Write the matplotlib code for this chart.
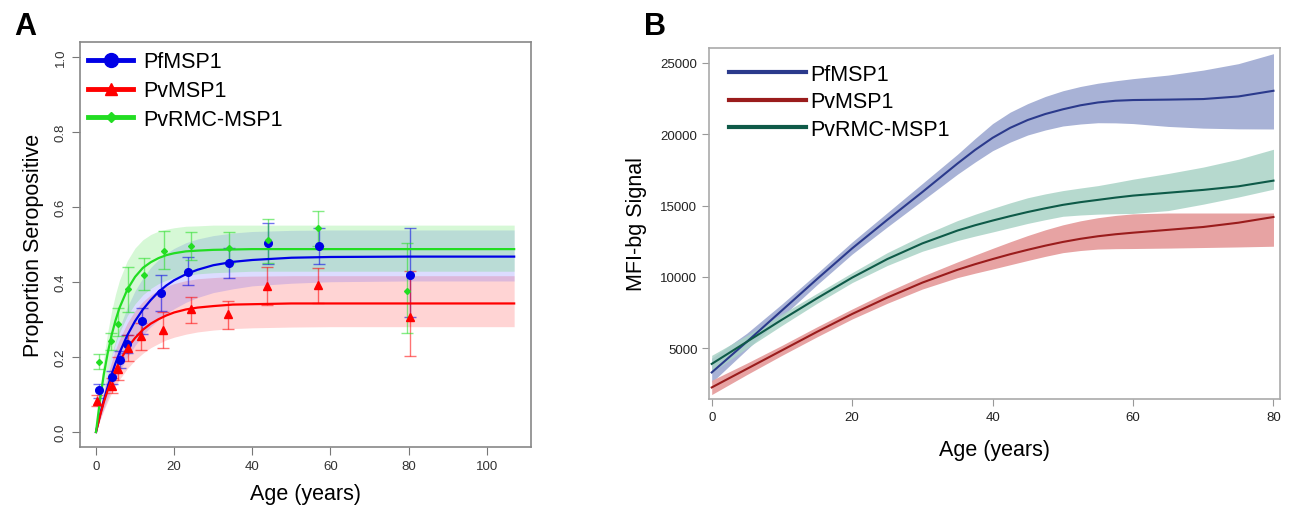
import numpy as np
import matplotlib.pyplot as plt
from matplotlib.lines import Line2D

plt.rcParams['font.family'] = ['Liberation Sans', 'DejaVu Sans']

# ---------------- Panel A data: proportion seropositive ----------------
pf_age = [0.8, 4.0, 6.2, 8.0, 11.7, 16.7, 23.6, 34.0, 44.0, 57.1, 80.3]
pf_prop = [0.111, 0.146, 0.193, 0.235, 0.295, 0.370, 0.428, 0.452, 0.503, 0.497, 0.420]
pf_lo = [0.092, 0.128, 0.170, 0.210, 0.262, 0.322, 0.393, 0.412, 0.448, 0.448, 0.306]
pf_hi = [0.129, 0.164, 0.215, 0.260, 0.330, 0.419, 0.466, 0.492, 0.557, 0.545, 0.545]

pv_age = [0.3, 4.1, 5.7, 8.2, 11.6, 17.2, 24.2, 33.8, 43.8, 56.7, 80.3]
pv_prop = [0.084, 0.124, 0.169, 0.224, 0.255, 0.272, 0.327, 0.314, 0.389, 0.391, 0.306]
pv_lo = [0.070, 0.105, 0.140, 0.190, 0.220, 0.225, 0.290, 0.275, 0.338, 0.345, 0.203]
pv_hi = [0.100, 0.145, 0.200, 0.260, 0.290, 0.320, 0.360, 0.350, 0.440, 0.437, 0.430]

rmc_age = [0.8, 3.9, 5.6, 8.1, 12.3, 17.4, 24.3, 34.1, 44.1, 56.9, 79.7]
rmc_prop = [0.187, 0.244, 0.288, 0.382, 0.420, 0.482, 0.495, 0.490, 0.513, 0.543, 0.377]
rmc_lo = [0.167, 0.220, 0.255, 0.320, 0.380, 0.435, 0.460, 0.450, 0.450, 0.495, 0.265]
rmc_hi = [0.209, 0.265, 0.330, 0.440, 0.465, 0.535, 0.533, 0.533, 0.567, 0.590, 0.503]

# fitted curves and bands read at these ages
fit_age = [0, 1, 2, 3, 4, 5, 6, 8, 10, 12, 14, 16, 18, 20, 23, 26, 30, 35, 40, 50, 60, 80, 107]
pf_fit = [0, 0.045, 0.085, 0.121, 0.154, 0.184, 0.211, 0.258, 0.296, 0.327, 0.352, 0.374,
          0.391, 0.405, 0.421, 0.433, 0.445, 0.454, 0.459, 0.465, 0.467, 0.468, 0.468]
pf_fit_hi = [0, 0.061, 0.115, 0.163, 0.205, 0.243, 0.277, 0.333, 0.377, 0.411, 0.439, 0.460,
             0.477, 0.490, 0.505, 0.515, 0.524, 0.531, 0.535, 0.538, 0.539, 0.539, 0.539]
pf_fit_lo = [0, 0.033, 0.063, 0.091, 0.116, 0.139, 0.161, 0.199, 0.231, 0.258, 0.281, 0.299,
             0.316, 0.329, 0.346, 0.359, 0.372, 0.382, 0.390, 0.397, 0.401, 0.403, 0.403]
pv_fit = [0, 0.042, 0.080, 0.112, 0.141, 0.166, 0.188, 0.224, 0.251, 0.273, 0.289, 0.301,
          0.311, 0.319, 0.327, 0.332, 0.336, 0.340, 0.341, 0.343, 0.343, 0.343, 0.343]
pv_fit_hi = [0, 0.058, 0.108, 0.151, 0.188, 0.220, 0.247, 0.291, 0.324, 0.348, 0.366, 0.379,
             0.389, 0.396, 0.404, 0.409, 0.412, 0.415, 0.416, 0.417, 0.417, 0.417, 0.417]
pv_fit_lo = [0, 0.031, 0.058, 0.082, 0.104, 0.123, 0.140, 0.169, 0.192, 0.210, 0.225, 0.236,
             0.246, 0.253, 0.261, 0.267, 0.272, 0.276, 0.278, 0.280, 0.281, 0.281, 0.281]
rmc_fit = [0, 0.084, 0.154, 0.211, 0.259, 0.298, 0.331, 0.380, 0.414, 0.438, 0.453, 0.464,
           0.472, 0.477, 0.482, 0.484, 0.486, 0.487, 0.488, 0.488, 0.488, 0.488, 0.488]
rmc_fit_hi = [0, 0.109, 0.197, 0.267, 0.323, 0.368, 0.405, 0.457, 0.491, 0.513, 0.527, 0.536,
              0.541, 0.545, 0.549, 0.550, 0.552, 0.552, 0.552, 0.552, 0.552, 0.552, 0.552]
rmc_fit_lo = [0, 0.063, 0.118, 0.163, 0.203, 0.236, 0.265, 0.310, 0.342, 0.366, 0.383, 0.396,
              0.405, 0.412, 0.418, 0.422, 0.425, 0.427, 0.429, 0.429, 0.429, 0.429, 0.429]

# ---------------- Panel B data: MFI-bg signal ----------------
mfi_age = [0, 5, 10, 15, 20, 25, 30, 35, 37.5, 40, 42.5, 45, 47.5, 50, 52.5, 55, 57.5,
           60, 65, 70, 75, 80]
pf_mfi = [3300, 5450, 7650, 9850, 12000, 14000, 15950, 17950, 18900, 19750, 20450, 21000,
          21420, 21750, 22030, 22230, 22350, 22400, 22430, 22470, 22650, 23050]
pf_mfi_hi = [4300, 6050, 8100, 10250, 12450, 14500, 16550, 18600, 19700, 20750, 21550, 22150,
             22650, 23050, 23350, 23580, 23750, 23900, 24150, 24500, 24950, 25650]
pf_mfi_lo = [2600, 4900, 7200, 9450, 11600, 13500, 15350, 17200, 18050, 18850, 19450, 19950,
             20300, 20580, 20720, 20810, 20800, 20750, 20550, 20430, 20380, 20370]
pv_mfi = [2250, 3550, 4850, 6150, 7400, 8550, 9600, 10500, 10890, 11250, 11590, 11900,
          12190, 12450, 12670, 12850, 12990, 13100, 13300, 13500, 13800, 14200]
pv_mfi_hi = [2750, 3950, 5200, 6500, 7750, 8950, 10050, 11050, 11530, 12000, 12460, 12900,
             13300, 13650, 13930, 14150, 14310, 14420, 14480, 14480, 14480, 14480]
pv_mfi_lo = [1750, 3150, 4500, 5800, 7050, 8150, 9150, 9950, 10260, 10550, 10850, 11150,
             11440, 11700, 11850, 11950, 11980, 11990, 12020, 12060, 12100, 12150]
rmc_mfi = [3900, 5450, 7000, 8500, 9950, 11250, 12350, 13250, 13620, 13950, 14260, 14550,
           14810, 15050, 15240, 15400, 15560, 15700, 15900, 16100, 16350, 16750]
rmc_mfi_hi = [4500, 5900, 7400, 8850, 10300, 11700, 12900, 13950, 14390, 14800, 15190, 15550,
              15820, 16050, 16230, 16400, 16620, 16850, 17250, 17700, 18250, 18950]
rmc_mfi_lo = [3300, 5000, 6600, 8150, 9600, 10800, 11800, 12550, 12860, 13150, 13450, 13750,
              14010, 14250, 14340, 14400, 14430, 14450, 14650, 15100, 15600, 16150]

labels = ['PfMSP1', 'PvMSP1', 'PvRMC-MSP1']

fig = plt.figure(figsize=(12.9, 5.06), dpi=100)
axA = fig.add_axes([0.062, 0.1146, 0.3496, 0.800])
axB = fig.add_axes([0.5498, 0.2095, 0.4423, 0.6937])

# ---- Panel A ----
cA = {'pf': '#0000e6', 'pv': '#ff0000', 'rmc': '#22dd22'}
axA.fill_between(fit_age, pv_fit_lo, pv_fit_hi, color='#ff0000', alpha=0.17, lw=0)
axA.fill_between(fit_age, pf_fit_lo, pf_fit_hi, color='#3030ff', alpha=0.17, lw=0)
axA.fill_between(fit_age, rmc_fit_lo, rmc_fit_hi, color='#33dd33', alpha=0.2, lw=0)

for age, p, lo, hi, col, mk, ms in [
        (pf_age, pf_prop, pf_lo, pf_hi, cA['pf'], 'o', 5.5),
        (pv_age, pv_prop, pv_lo, pv_hi, cA['pv'], '^', 6),
        (rmc_age, rmc_prop, rmc_lo, rmc_hi, cA['rmc'], 'D', 3)]:
    p = np.array(p)
    err = [p - np.array(lo), np.array(hi) - p]
    axA.errorbar(age, p, yerr=err, fmt='none', ecolor=col, alpha=0.55, elinewidth=1,
                 capsize=4, capthick=1)
    axA.plot(age, p, linestyle='none', marker=mk, ms=ms, color=col, zorder=4)

axA.plot(fit_age, pf_fit, color=cA['pf'], lw=1.6, zorder=3)
axA.plot(fit_age, pv_fit, color=cA['pv'], lw=1.6, zorder=3)
axA.plot(fit_age, rmc_fit, color=cA['rmc'], lw=1.6, zorder=3)

axA.set_xlim(-4.1, 111.3)
axA.set_ylim(-0.04, 1.04)
axA.set_xticks([0, 20, 40, 60, 80, 100])
axA.set_yticks([0.0, 0.2, 0.4, 0.6, 0.8, 1.0])
axA.set_yticklabels(['0.0', '0.2', '0.4', '0.6', '0.8', '1.0'])
axA.tick_params(direction='out', length=6, color='#777777', labelsize=9.5, labelcolor='#333333')
for t in axA.get_yticklabels():
    t.set_rotation(90)
    t.set_va('center')
for s in axA.spines.values():
    s.set_color('#888888')
    s.set_linewidth(1.2)
axA.set_xlabel('Age (years)', fontsize=15.5, labelpad=8)
axA.set_ylabel('Proportion Seropositive', fontsize=15.5, labelpad=8)

hA = [Line2D([], [], color=cA['pf'], lw=3.5, marker='o', ms=10),
      Line2D([], [], color=cA['pv'], lw=3.5, marker='^', ms=9),
      Line2D([], [], color=cA['rmc'], lw=3.5, marker='D', ms=5)]
axA.legend(hA, labels, loc='upper left', bbox_to_anchor=(-0.025, 1.025), frameon=False,
           fontsize=15.5, handlelength=2.1, handletextpad=0.45, labelspacing=0.36)

# ---- Panel B ----
cB = {'pf': '#2b3a8c', 'pv': '#9a1c1c', 'rmc': '#0e5a48'}
axB.fill_between(mfi_age, pf_mfi_lo, pf_mfi_hi, color='#a8b2d6', lw=0)
axB.fill_between(mfi_age, rmc_mfi_lo, rmc_mfi_hi, color='#a9d3c6', alpha=0.85, lw=0)
axB.fill_between(mfi_age, pv_mfi_lo, pv_mfi_hi, color='#e7a3a3', lw=0)
ov_lo = np.maximum(pv_mfi_lo, rmc_mfi_lo)
ov_hi = np.minimum(pv_mfi_hi, rmc_mfi_hi)
axB.fill_between(mfi_age, ov_lo, ov_hi, where=ov_hi > ov_lo, interpolate=True,
                 color='#a3a3a3', lw=0)

axB.plot(mfi_age, pf_mfi, color=cB['pf'], lw=1.5)
axB.plot(mfi_age, pv_mfi, color=cB['pv'], lw=1.5)
axB.plot(mfi_age, rmc_mfi, color=cB['rmc'], lw=1.5)

axB.set_xlim(-0.35, 80.9)
axB.set_ylim(1440, 26050)
axB.set_xticks([0, 20, 40, 60, 80])
axB.set_yticks([5000, 10000, 15000, 20000, 25000])
axB.tick_params(direction='out', length=5, color='#999999', labelsize=9.5, labelcolor='#222222')
for s in axB.spines.values():
    s.set_color('#aaaaaa')
    s.set_linewidth(1.2)
axB.set_xlabel('Age (years)', fontsize=15.5, labelpad=12)
axB.set_ylabel('MFI-bg Signal', fontsize=15.5, labelpad=10)

hB = [Line2D([], [], color=cB['pf'], lw=3),
      Line2D([], [], color=cB['pv'], lw=3),
      Line2D([], [], color=cB['rmc'], lw=3)]
axB.legend(hB, labels, loc='upper left', bbox_to_anchor=(0.0, 1.01), frameon=False,
           fontsize=15.5, handlelength=3.6, handletextpad=0.2, labelspacing=0.3)

fig.text(0.011, 0.93, 'A', fontsize=22, fontweight='bold')
fig.text(0.499, 0.93, 'B', fontsize=22, fontweight='bold')

fig.savefig('out.png', dpi=100, facecolor='white')
